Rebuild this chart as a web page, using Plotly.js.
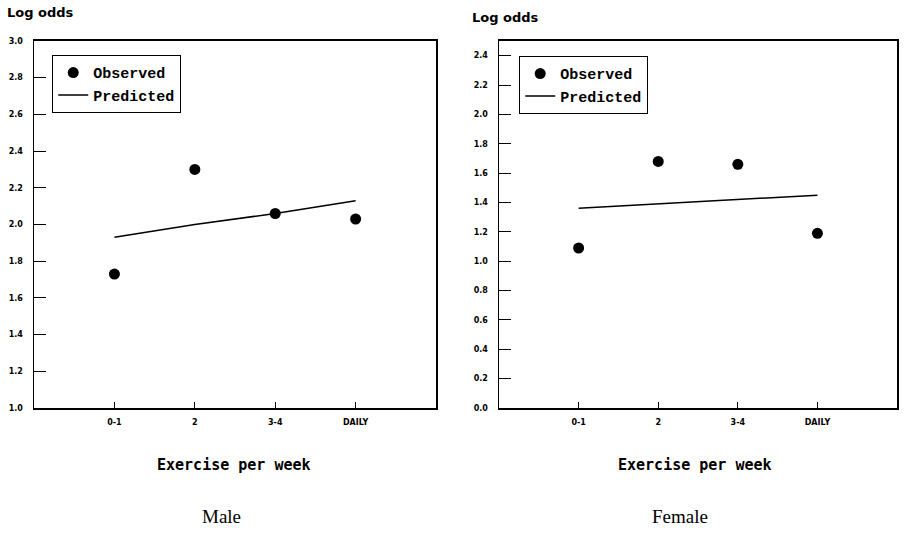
<!DOCTYPE html>
<html>
<head>
<meta charset="utf-8">
<script src="https://cdn.plot.ly/plotly-3.0.1.min.js"></script>
<style>html,body{margin:0;padding:0;background:#fff;}#chart{width:905px;height:540px;}</style>
</head>
<body>
<div id="chart"></div>
<script>
const categories = ["0-1", "2", "3-4", "DAILY"];
const maleObserved = [1.73, 2.30, 2.06, 2.03];
const malePredicted = [1.93, 2.00, 2.06, 2.13];
const femaleObserved = [1.09, 1.68, 1.66, 1.19];
const femalePredicted = [1.36, 1.39, 1.42, 1.45];
const maleYTicks = [1.0, 1.2, 1.4, 1.6, 1.8, 2.0, 2.2, 2.4, 2.6, 2.8, 3.0];
const femaleYTicks = [0.0, 0.2, 0.4, 0.6, 0.8, 1.0, 1.2, 1.4, 1.6, 1.8, 2.0, 2.2, 2.4];

const tickFont = {family: "DejaVu Sans", size: 8, color: "#000", weight: "bold"};
const legendFont = {family: "Liberation Mono", size: 15, color: "#000", weight: "bold"};

const traces = [
  {x: categories, y: maleObserved, type: "scatter", mode: "markers", name: "Observed",
   marker: {color: "#000", size: 11}, xaxis: "x", yaxis: "y", legend: "legend"},
  {x: categories, y: malePredicted, type: "scatter", mode: "lines", name: "Predicted",
   line: {color: "#000", width: 1.5}, xaxis: "x", yaxis: "y", legend: "legend"},
  {x: categories, y: femaleObserved, type: "scatter", mode: "markers", name: "Observed",
   marker: {color: "#000", size: 11}, xaxis: "x2", yaxis: "y2", legend: "legend2"},
  {x: categories, y: femalePredicted, type: "scatter", mode: "lines", name: "Predicted",
   line: {color: "#000", width: 1.5}, xaxis: "x2", yaxis: "y2", legend: "legend2"}
];

function xAxis(domain, anchor) {
  return {
    domain: domain, anchor: anchor, type: "category", range: [-1, 4],
    showline: true, mirror: true, linecolor: "#000", linewidth: 1.5,
    ticks: "inside", ticklen: 6, tickwidth: 1, tickcolor: "#000",
    showgrid: false, zeroline: false, tickfont: tickFont, ticklabelstandoff: 6,
    fixedrange: true
  };
}
function yAxis(range, vals, anchor) {
  return {
    domain: [0.2444, 0.9241], anchor: anchor, range: range,
    tickvals: vals, tickformat: ".1f",
    showline: true, mirror: true, linecolor: "#000", linewidth: 1.5,
    ticks: "inside", ticklen: 12, tickwidth: 1, tickcolor: "#000",
    showgrid: false, zeroline: false, tickfont: tickFont, ticklabelstandoff: 8,
    fixedrange: true
  };
}

const legendBase = {
  font: legendFont, bordercolor: "#000", borderwidth: 1.2, bgcolor: "#fff",
  xanchor: "left", yanchor: "top", tracegroupgap: 0, itemwidth: 30
};

const layout = {
  width: 905, height: 540,
  margin: {l: 0, r: 0, t: 0, b: 0},
  paper_bgcolor: "#fff", plot_bgcolor: "#fff",
  showlegend: true,
  xaxis: xAxis([0.0376, 0.4818], "y"),
  yaxis: yAxis([1, 3], maleYTicks, "x"),
  xaxis2: xAxis([0.5514, 0.9912], "y2"),
  yaxis2: yAxis([0, 2.5], femaleYTicks, "x2"),
  legend: Object.assign({x: 0.0575, y: 0.898}, legendBase),
  legend2: Object.assign({x: 0.5735, y: 0.896}, legendBase),
  annotations: [
    {text: "Log odds", xref: "paper", yref: "paper", x: 0.005, y: 0.976, xanchor: "left", yanchor: "middle",
     showarrow: false, font: {family: "DejaVu Sans", size: 13, color: "#000", weight: "bold"}},
    {text: "Log odds", xref: "paper", yref: "paper", x: 0.519, y: 0.967, xanchor: "left", yanchor: "middle",
     showarrow: false, font: {family: "DejaVu Sans", size: 13, color: "#000", weight: "bold"}},
    {text: "Exercise per week", xref: "paper", yref: "paper", x: 0.2586, y: 0.139, xanchor: "center", yanchor: "middle",
     showarrow: false, font: {family: "DejaVu Sans Mono", size: 15, color: "#000", weight: "bold"}},
    {text: "Exercise per week", xref: "paper", yref: "paper", x: 0.768, y: 0.139, xanchor: "center", yanchor: "middle",
     showarrow: false, font: {family: "DejaVu Sans Mono", size: 15, color: "#000", weight: "bold"}},
    {text: "Male", xref: "paper", yref: "paper", x: 0.2453, y: 0.044, xanchor: "center", yanchor: "middle",
     showarrow: false, font: {family: "Liberation Serif", size: 19, color: "#000"}},
    {text: "Female", xref: "paper", yref: "paper", x: 0.7514, y: 0.044, xanchor: "center", yanchor: "middle",
     showarrow: false, font: {family: "Liberation Serif", size: 19, color: "#000"}}
  ]
};

Plotly.newPlot("chart", traces, layout, {displayModeBar: false, staticPlot: true});
</script>
</body>
</html>
